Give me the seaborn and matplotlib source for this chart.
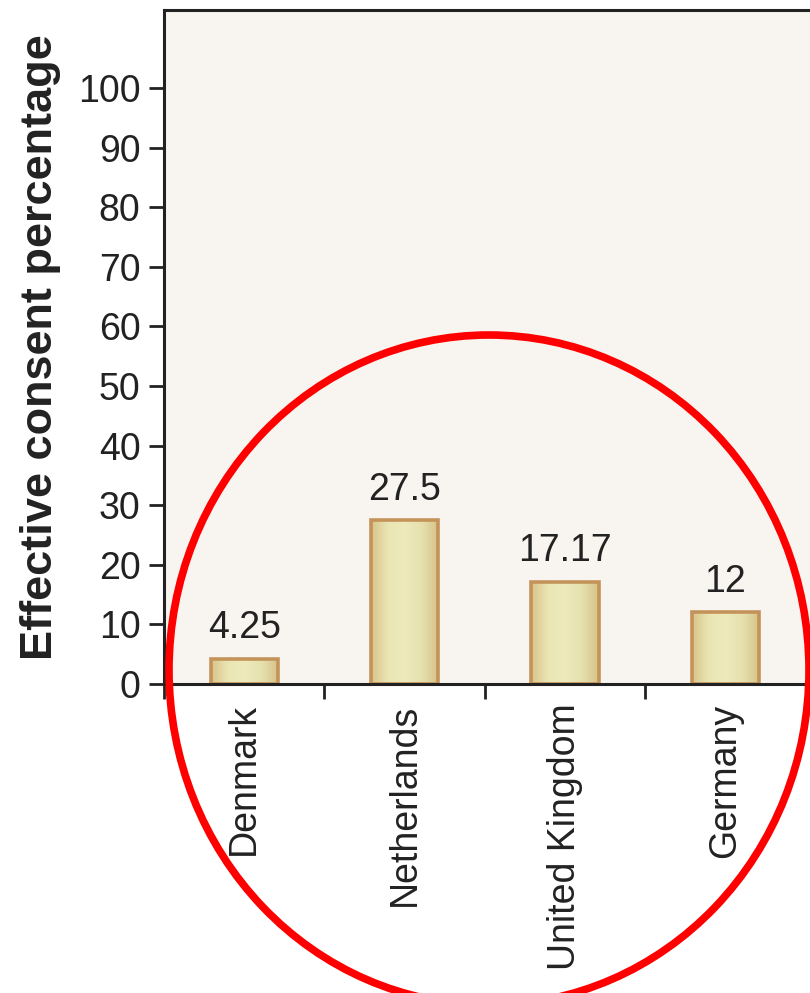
import numpy as np
import pandas as pd
import matplotlib
matplotlib.use("Agg")
import matplotlib.pyplot as plt
from matplotlib.patches import Ellipse
from matplotlib.colors import LinearSegmentedColormap
import seaborn as sns

# Data
countries = ["Denmark", "Netherlands", "United Kingdom", "Germany"]
consent = [4.25, 27.5, 17.17, 12]
value_labels = ["4.25", "27.5", "17.17", "12"]
y_ticks = [0, 10, 20, 30, 40, 50, 60, 70, 80, 90, 100]

df = pd.DataFrame({"country": countries, "consent": consent})

sns.set_theme(style="white")
plt.rcParams["font.family"] = ["Liberation Sans", "DejaVu Sans"]

W, H = 810, 993
fig = plt.figure(figsize=(W / 100, H / 100), dpi=100)
fig.patch.set_facecolor("white")

# Axes runs off the right edge of the canvas
ax = fig.add_axes([164 / W, (H - 684) / H, 802 / W, (684 - 10) / H])
ax.set_facecolor("#F8F5F0")

sns.barplot(data=df, x="country", y="consent", order=countries,
            color="#E8E2B0", edgecolor="#C4935A", linewidth=2.6,
            width=0.42, saturation=1, ax=ax, zorder=2)

# Horizontal shading inside each bar
shade = LinearSegmentedColormap.from_list(
    "bar_shade", ["#D8C48A", "#EAE5B4", "#EEEABB", "#E6E0AE", "#D6C287"])
grad = np.linspace(0, 1, 256).reshape(1, -1)
for patch in ax.patches:
    x0, y0 = patch.get_x(), patch.get_y()
    w, h = patch.get_width(), patch.get_height()
    im = ax.imshow(grad, cmap=shade, aspect="auto",
                   extent=[x0, x0 + w, y0, y0 + h], zorder=2.1,
                   interpolation="bicubic")
    im.set_clip_path(patch)
    patch.set_facecolor("none")
    patch.set_zorder(2.2)

# Value labels above bars
for i, (v, lab) in enumerate(zip(consent, value_labels)):
    ax.annotate(lab, (i, v), xytext=(0, 9), textcoords="offset points",
                ha="center", va="bottom", fontsize=27, color="#222222")

ax.set_xlim(-0.5, 4.5)
ax.set_ylim(0, 113.1)
ax.set_yticks(y_ticks)
ax.set_yticklabels([str(t) for t in y_ticks])

# Category labels at centres, tick marks at category boundaries
ax.set_xticks(range(len(countries)))
ax.set_xticklabels(countries, rotation=90)
ax.set_xticks(np.arange(-0.5, 4.0, 1.0), minor=True)
ax.tick_params(axis="x", which="major", length=0, pad=14,
               labelsize=27, labelcolor="#222222")
ax.tick_params(axis="x", which="minor", length=11, width=2,
               color="#222222", direction="out", bottom=True)
ax.tick_params(axis="y", which="major", length=11, width=2,
               color="#222222", direction="out", left=True,
               labelsize=27, labelcolor="#222222", pad=6)

ax.set_xlabel("")
ax.set_ylabel("Effective consent percentage", fontsize=32.5,
              fontweight="bold", color="#222222", labelpad=12)

for side in ["left", "bottom", "top", "right"]:
    ax.spines[side].set_visible(True)
    ax.spines[side].set_color("#222222")
    ax.spines[side].set_linewidth(2.2)

# Red highlight ring
ring = Ellipse((489 / W, (H - 670) / H), 640 / W, 670 / H,
               transform=fig.transFigure, fill=False,
               edgecolor="#FF0000", linewidth=5.5, zorder=10,
               clip_on=False)
fig.patches.append(ring)

fig.savefig("out.png", dpi=100, facecolor="white")
